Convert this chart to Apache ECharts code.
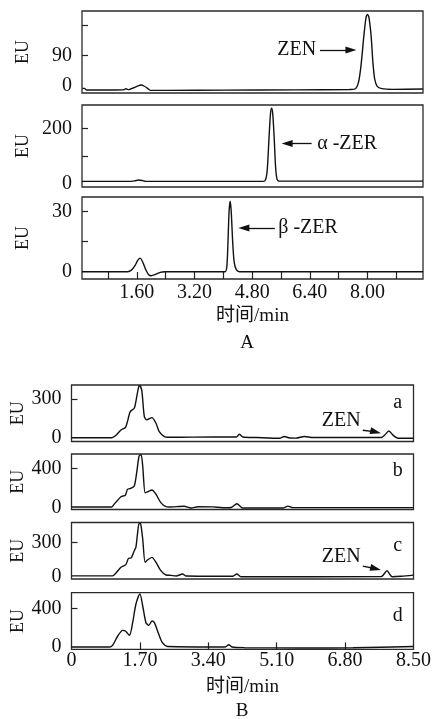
<!DOCTYPE html>
<html><head><meta charset="utf-8">
<script src="https://cdn.jsdelivr.net/npm/echarts@6/dist/echarts.min.js"></script>
<style>html,body{margin:0;padding:0;background:#fff}#c{width:434px;height:719px}</style>
</head><body><div id="c"></div><script>
// ---------- data (time in min, signal in EU) ----------
const xTicksA = [0.8,1.6,2.4,3.2,4.0,4.8,5.6,6.4,7.2,8.0,8.8];
const xLabelsA = [1.6,3.2,4.8,6.4,8.0];
const xTicksB = [1.7,3.4,5.1,6.8];
const xLabelsB = [0,1.7,3.4,5.1,6.8,8.5];

const yLabelsA1 = [0,90],  yTicksA1 = [90,180];
const yLabelsA2 = [0,200], yTicksA2 = [100,200];
const yLabelsA3 = [0,30],  yTicksA3 = [15,30];
const yLabelsBa = [0,300], yTicksBa = [300];
const yLabelsBb = [0,400], yTicksBb = [400];
const yLabelsBc = [0,300], yTicksBc = [300];
const yLabelsBd = [0,400], yTicksBd = [400];

// Panel A: standards
const traceZEN = [[0.09,-8],[0.15,-8],[0.2,-13],[1.0,-13],[1.25,-12],[1.3,-9],[1.34,-11],[1.38,-12],[1.5,-7],[1.65,0],[1.72,2],[1.8,-1],[1.9,-8],[1.97,-14],[2.5,-14],[4.0,-13.5],[6.0,-12.5],[7.5,-11.5],[7.65,-10],[7.75,10],[7.82,60],[7.9,150],[7.96,205],[8.0,214],[8.04,205],[8.1,150],[8.15,70],[8.2,20],[8.27,-2],[8.4,-9],[8.7,-11],[9.54,-10]];
const traceAZER = [[0.08,7],[1.45,7],[1.55,9],[1.65,12],[1.75,10],[1.85,7],[5.1,7],[5.17,12],[5.22,50],[5.27,170],[5.31,255],[5.34,273],[5.37,255],[5.41,170],[5.45,60],[5.49,15],[5.55,8],[9.54,8]];
const traceBZER = [[0.08,0],[1.35,0],[1.45,0.8],[1.55,3],[1.62,5.5],[1.69,6.8],[1.76,5],[1.85,1],[1.93,-1.5],[2.0,-2],[2.1,-1.5],[2.25,-0.3],[2.38,0],[4.05,0],[4.1,3],[4.13,15],[4.16,30],[4.19,35.2],[4.22,30],[4.26,15],[4.3,5],[4.36,1],[4.45,0],[9.54,0]];

// Panel B: samples a-d
const traceBa = [[0,0],[1.0,0],[1.10,17],[1.23,60],[1.34,79],[1.39,125],[1.46,202],[1.56,228],[1.60,280],[1.67,396],[1.70,402],[1.75,357],[1.81,164],[1.87,138],[2.0,156],[2.10,112],[2.18,48],[2.31,9],[2.39,4],[3.0,5],[4.1,6],[4.17,27],[4.26,6],[4.6,2],[5.17,-4],[5.29,10],[5.42,-2],[5.58,-3],[5.79,10],[6.0,2],[7.0,2],[7.70,2],[7.78,20],[7.89,52],[7.99,20],[8.11,-4],[8.5,-4]];
const traceBb = [[0,5],[1.0,5],[1.06,33],[1.23,111],[1.34,126],[1.39,187],[1.48,198],[1.56,221],[1.62,358],[1.68,530],[1.73,545],[1.77,427],[1.83,152],[1.89,160],[2.0,180],[2.10,136],[2.22,50],[2.35,8],[2.43,5],[2.80,12],[2.97,-5],[3.14,8],[3.51,6],[3.76,-3],[3.97,0],[4.11,39],[4.21,5],[4.25,-5],[5.25,-5],[5.38,14],[5.50,-2],[8.5,-2]];
const traceBc = [[0,5],[1.02,5],[1.10,28],[1.23,81],[1.35,104],[1.42,160],[1.48,162],[1.56,226],[1.60,256],[1.64,373],[1.68,466],[1.72,460],[1.77,329],[1.83,124],[1.89,145],[2.0,168],[2.10,124],[2.22,51],[2.35,13],[2.47,10],[2.60,4],[2.76,22],[2.85,4],[4.01,2],[4.11,22],[4.21,-2],[7.70,0],[7.84,50],[7.97,-2],[8.2,2],[8.5,12]];
const traceBd = [[0,0],[0.94,0],[1.02,17],[1.15,115],[1.27,174],[1.34,167],[1.44,122],[1.52,254],[1.60,446],[1.70,555],[1.77,428],[1.85,254],[1.92,226],[2.0,271],[2.06,254],[2.17,132],[2.26,45],[2.39,5],[3.82,0],[3.91,24],[3.99,0],[4.3,-7],[5.66,-10],[7.0,-8],[8.5,5]];

// annotations (data coordinates): label anchor, arrow shaft [from,to], arrowhead direction (deg)
const noteZEN  = {text:'ZEN',    at:[6.59,107], side:'left',  arrow:[[6.68,107],[7.54,107]], dir:-90};
const noteAZER = {text:'α -ZER', at:[6.59,145], side:'right', arrow:[[6.45,145],[5.77,145]], dir:90};
const noteBZER = {text:'β -ZER', at:[5.51,21.9],side:'right', arrow:[[5.43,21.9],[4.57,21.9]], dir:90};
const noteBa = {text:'ZEN', at:[7.20,128], side:'left', arrow:[[7.24,58],[7.56,45]], dir:-104};
const noteBc = {text:'ZEN', at:[7.20,171], side:'left', arrow:[[7.24,92],[7.56,68]], dir:-104};
const tagBa = {text:'a', at:[8.11,267]};
const tagBb = {text:'b', at:[8.11,376]};
const tagBc = {text:'c', at:[8.11,270]};
const tagBd = {text:'d', at:[8.11,324]};

// ---------- layout & styles ----------
const FONT = "'Liberation Serif','Noto Sans CJK SC',serif";
const INK = '#111';
const FS = 20;
const panels = [
  {box:[82,11,341,82],  x:[0.08,9.54], y:[-22,224],  yl:yLabelsA1, yt:yTicksA1, data:traceZEN,  xs:false, grp:'A', note:noteZEN},
  {box:[82,105,341,82], x:[0.08,9.54], y:[-13.5,285],yl:yLabelsA2, yt:yTicksA2, data:traceAZER, xs:false, grp:'A', note:noteAZER},
  {box:[82,197,341,82], x:[0.08,9.54], y:[-3.65,37.35],yl:yLabelsA3,yt:yTicksA3, data:traceBZER, xs:true,  grp:'A', note:noteBZER},
  {box:[71.5,385,342,56.5], x:[0,8.5], y:[-29,408], yl:yLabelsBa, yt:yTicksBa, data:traceBa, xs:false, grp:'B', note:noteBa, tag:tagBa},
  {box:[71.5,454,342,55.5], x:[0,8.5], y:[-21,551], yl:yLabelsBb, yt:yTicksBb, data:traceBb, xs:false, grp:'B', tag:tagBb},
  {box:[71.5,522.5,342,56.5], x:[0,8.5], y:[-22,474], yl:yLabelsBc, yt:yTicksBc, data:traceBc, xs:false, grp:'B', note:noteBc, tag:tagBc},
  {box:[71.5,592.7,342,56.7], x:[0,8.5], y:[-25,567], yl:yLabelsBd, yt:yTicksBd, data:traceBd, xs:true, grp:'B', tag:tagBd}
];

const grid=[], xAxis=[], yAxis=[], series=[];
panels.forEach((p,i)=>{
  const isA = p.grp==='A';
  grid.push({left:p.box[0], top:p.box[1], width:p.box[2], height:p.box[3], show:true, borderColor:'#2a2a2a', borderWidth:1.3, backgroundColor:'transparent'});
  xAxis.push({type:'value', gridIndex:i, min:p.x[0], max:p.x[1],
    axisLine:{show:false, onZero:false}, splitLine:{show:false},
    axisTick:{show:p.xs, inside:true, length:7, customValues: isA?xTicksA:xTicksB, lineStyle:{color:'#222',width:1.2}},
    axisLabel:{show:p.xs, customValues: isA?xLabelsA:xLabelsB, margin: isA?4:1, fontSize:FS, fontFamily:FONT, color:INK,
      formatter:v=> v===0?'0':v.toFixed(2)},
    name: p.xs?'时间/min':'', nameLocation:'middle', nameGap:28, nameMoveOverlap:false,
    nameTextStyle:{fontSize:19, fontFamily:FONT, color:INK}
  });
  yAxis.push({type:'value', gridIndex:i, min:p.y[0], max:p.y[1],
    axisLine:{show:false}, splitLine:{show:false},
    axisTick:{show:true, inside:true, length:6, customValues:p.yt, lineStyle:{color:'#222',width:1.2}},
    axisLabel:{customValues:p.yl, margin:10, fontSize:FS, fontFamily:FONT, color:INK},
    name:'EU', nameLocation:'middle', nameRotate:90, nameGap: isA?50:44, nameMoveOverlap:false,
    nameTextStyle:{fontSize:18, fontFamily:FONT, color:INK}
  });
  const s = {type:'line', xAxisIndex:i, yAxisIndex:i, data:p.data, symbol:'none', smooth:0.25,
    lineStyle:{color:INK, width:1.4}, itemStyle:{color:INK}, silent:true, animation:false};
  const mp = [];
  if (p.note) {
    s.markLine = {silent:true, symbol:['none','none'], label:{show:false},
      lineStyle:{color:INK, width:1.3, type:'solid'},
      data:[[{coord:p.note.arrow[0]},{coord:p.note.arrow[1]}]]};
    mp.push({coord:p.note.at, value:p.note.text, label:{position:p.note.side, distance:0}});
    mp.push({coord:p.note.arrow[1], value:'', symbol:'triangle', symbolSize:[7,11], symbolRotate:p.note.dir,
      itemStyle:{color:INK}, label:{show:false}});
  }
  if (p.tag) mp.push({coord:p.tag.at, value:p.tag.text, label:{position:'inside'}});
  if (mp.length) {
    s.markPoint = {silent:true, symbol:'circle', symbolSize:1, itemStyle:{color:'rgba(0,0,0,0)'},
      label:{show:true, formatter:'{c}', fontSize:FS, fontFamily:FONT, color:INK}, data:mp};
  }
  series.push(s);
});

const chart = echarts.init(document.getElementById('c'), null, {renderer:'canvas'});
chart.setOption({
  animation:false, backgroundColor:'#fff',
  grid, xAxis, yAxis, series,
  graphic:[
    {type:'text', x:247, y:343, style:{text:'A', fontSize:19, fontFamily:FONT, fill:INK, align:'center', verticalAlign:'middle'}},
    {type:'text', x:242, y:711, style:{text:'B', fontSize:19, fontFamily:FONT, fill:INK, align:'center', verticalAlign:'middle'}}
  ]
});
</script></body></html>
